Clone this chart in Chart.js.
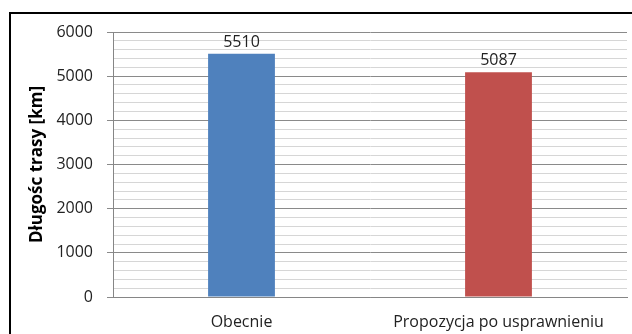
<!DOCTYPE html>
<html>
<head>
    <meta charset="UTF-8"/>
    <title>Długość trasy</title>
    <script src="https://cdn.jsdelivr.net/npm/chart.js@4.4.1/dist/chart.umd.min.js"></script>
    <style>
        html, body {
            margin: 0;
            padding: 0;
            background: #fff;
        }
        #wrap {
            width: 632px;
            height: 334px;
        }
    </style>
</head>
<body>
<div id="wrap">
    <canvas id="canvas" width="632" height="334"></canvas>
</div>
<script>
    // data
    var categories = ['Obecnie', 'Propozycja po usprawnieniu'];
    var lengths = [5510, 5087];
    var barColors = ['#4f81bd', '#c0504d'];
    var yTicksMajor = [0, 1000, 2000, 3000, 4000, 5000, 6000];

    var FONT = '"Open Sans", Lato, sans-serif';

    // outer frame of the chart (like the Excel chart border)
    var framePlugin = {
        id: 'frame',
        beforeDraw: function(chart) {
            var ctx = chart.ctx;
            ctx.save();
            ctx.fillStyle = '#fff';
            ctx.fillRect(0, 0, chart.width, chart.height);
            ctx.strokeStyle = '#000';
            ctx.lineWidth = 2;
            ctx.strokeRect(10, 13, chart.width + 20, chart.height + 20);
            ctx.restore();
        }
    };

    // value labels above the bars
    var valueLabels = {
        id: 'valueLabels',
        afterDatasetsDraw: function(chart) {
            var ctx = chart.ctx;
            var meta = chart.getDatasetMeta(0);
            ctx.save();
            ctx.font = '16px ' + FONT;
            ctx.fillStyle = '#222';
            ctx.textAlign = 'center';
            ctx.textBaseline = 'alphabetic';
            meta.data.forEach(function(bar, i) {
                ctx.fillText(String(lengths[i]), bar.x, bar.y - 7);
            });
            ctx.restore();
        }
    };

    function isMajor(v) {
        return yTicksMajor.indexOf(v) !== -1;
    }

    var ctx = document.getElementById('canvas').getContext('2d');
    var chart = new Chart(ctx, {
        type: 'bar',
        data: {
            labels: categories,
            datasets: [{
                data: lengths,
                backgroundColor: barColors,
                borderWidth: 0,
                barPercentage: 0.26,
                categoryPercentage: 1.0
            }]
        },
        options: {
            responsive: false,
            animation: false,
            layout: {
                padding: { top: 32, right: 5, bottom: 0, left: 0 }
            },
            plugins: {
                legend: { display: false },
                tooltip: { enabled: false }
            },
            scales: {
                x: {
                    grid: { display: false, drawTicks: false },
                    border: { color: '#868686', width: 1 },
                    ticks: {
                        color: '#222',
                        padding: 16,
                        font: { family: FONT, size: 16 }
                    },
                    afterFit: function(scale) { scale.height = 37; }
                },
                y: {
                    min: 0,
                    max: 6000,
                    border: { color: '#868686', width: 1 },
                    grid: {
                        color: function(c) {
                            return isMajor(c.tick.value) ? '#8a8a8a' : '#d6d6d6';
                        },
                        tickColor: function(c) {
                            return isMajor(c.tick.value) ? '#8a8a8a' : 'rgba(0,0,0,0)';
                        },
                        tickLength: 6,
                        lineWidth: 1
                    },
                    ticks: {
                        stepSize: 200,
                        autoSkip: false,
                        color: '#222',
                        padding: 14,
                        font: { family: FONT, size: 16 },
                        callback: function(v) {
                            return isMajor(v) ? String(v) : '';
                        }
                    },
                    title: {
                        display: true,
                        text: 'Długośc trasy [km]',
                        color: '#000',
                        font: { family: FONT, size: 17, weight: 'bold' },
                        padding: { top: 27, bottom: 0 }
                    },
                    afterFit: function(scale) { scale.width = 113; }
                }
            }
        },
        plugins: [framePlugin, valueLabels]
    });
</script>
</body>
</html>
